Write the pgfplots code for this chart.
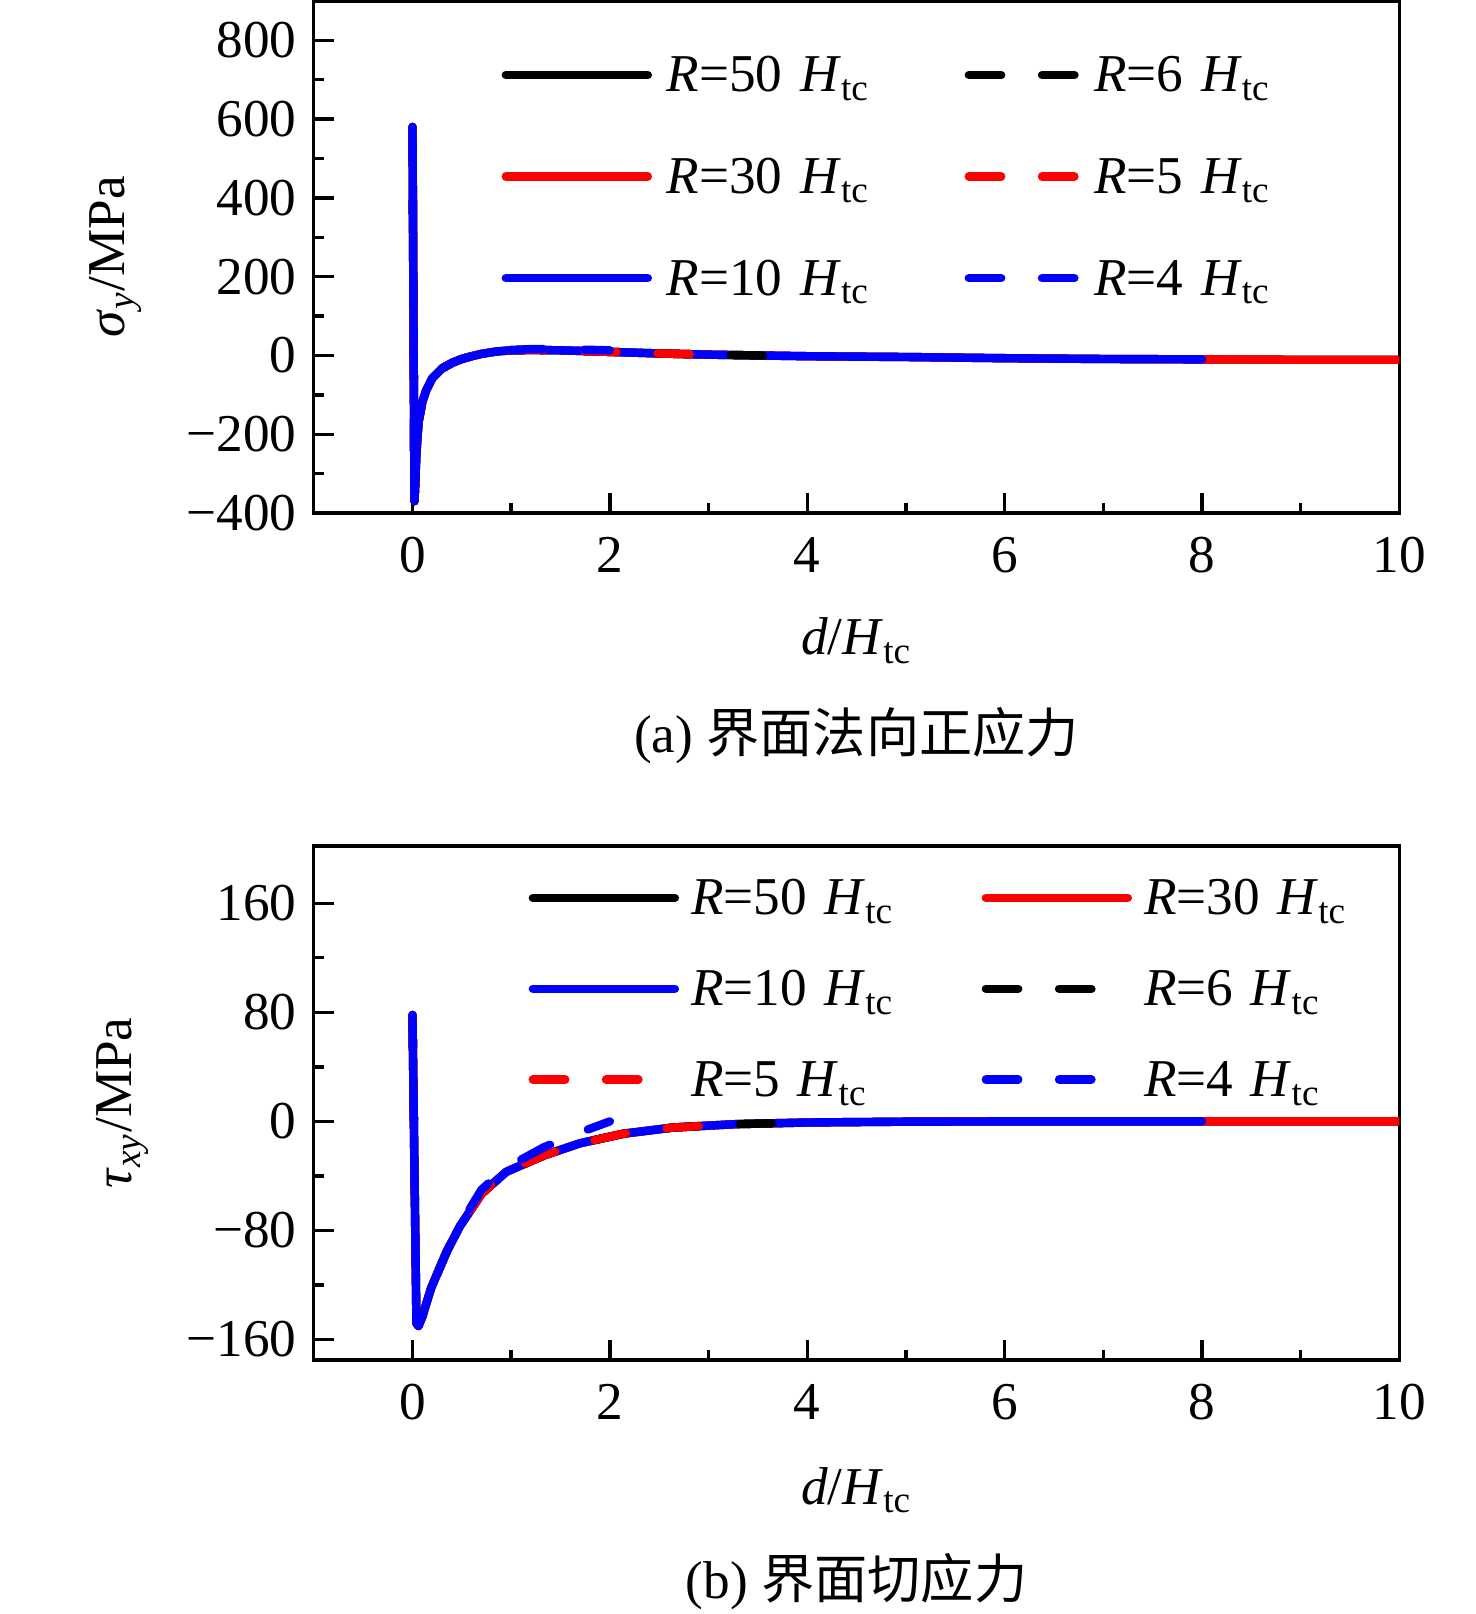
\documentclass[border=0pt]{standalone}
\usepackage{fontspec}
\setmainfont{Liberation Serif}
\newfontfamily\cjk{Noto Sans CJK SC}
\usepackage{pgfplots}
\pgfplotsset{compat=1.18}
\newcommand{\fs}{\fontsize{13.3}{16}\selectfont}
\newcommand{\Rl}[1]{\textit{R}=#1 \textit{H}\textsubscript{tc}}

\pgfplotsset{
  myaxis/.style={
    scale only axis, width=271.4pt,
    xmin=-1, xmax=10,
    axis line style={line width=0.85pt},
    tick style={line width=0.85pt, black},
    tick align=inside, xtick pos=bottom, ytick pos=left,
    major tick length=5pt, minor tick length=2.5pt,
    xtick={0,2,4,6,8,10},
    xticklabels={\textrm{0},\textrm{2},\textrm{4},\textrm{6},\textrm{8},\textrm{10}},
    minor x tick num=1, minor y tick num=1,
    ticklabel style={font=\fs},
    xticklabel style={anchor=base, yshift=-14.9pt},
    yticklabel style={xshift=-0.8pt},
    label style={font=\fs},
    legend cell align=left,
    legend style={draw=none, fill=none, inner sep=0pt, outer sep=0pt, font=\fs, anchor=north west,
       nodes={inner sep=0pt, text height=9.5pt, text depth=3.5pt, align=left}},
  },
  legsolid/.style={legend image code/.code={\draw[##1] (0pt,1.25pt) -- (35.5pt,1.25pt);}},
  legdash/.style={legend image code/.code={\draw[##1] (0pt,1.25pt) -- (26.6pt,1.25pt);}},
}
\tikzset{
  ln/.style={line width=2.1pt, line cap=round, line join=round},
  dsh/.style={dash pattern=on 8.1pt off 10.2pt},
}

\begin{document}
\begin{tikzpicture}
\path[use as bounding box] (-78.45pt,-63.5pt) rectangle (290.5pt,340pt);

% ---------------- (a) ----------------
\begin{axis}[myaxis, name=top, at={(0pt,211.75pt)}, anchor=south west,
  height=128pt, ymin=-400, ymax=900,
  ytick={-400,-200,0,200,400,600,800},
  yticklabels={\textrm{−400},\textrm{−200},\textrm{0},\textrm{200},\textrm{400},\textrm{600},\textrm{800}},
  xlabel={\textit{d}/\textit{H}\textsubscript{tc}},
  xlabel style={at={(axis description cs:0.5,-0.2773)}, anchor=base},
  ylabel={\textit{σ}\textsubscript{\textit{y}}/MPa},
  ylabel style={at={(axis description cs:-0.1741,0.5)}, anchor=base},
  legend columns=2,
  legend style={at={(axis description cs:0.1730,0.8965)}, row sep=12.4pt, column sep=3.7pt,
     /tikz/every even column/.append style={column sep=0pt},
     nodes={text width=74.45pt}},
]
% R=50 black solid
\addplot[forget plot, black, ln] coordinates {(0,580) (0.02,-370) (0.04,-250) (0.06,-170) (0.10,-118) (0.14,-88) (0.20,-58) (0.30,-33) (0.40,-19) (0.50,-9) (0.60,-2) (0.70,4) (0.85,10) (1.00,13) (1.20,14) (1.50,13) (2.00,9) (2.50,5) (3.00,2) (3.50,0) (4.00,-2) (5.00,-4) (6.00,-7) (7.00,-9) (8.00,-10) (9.00,-11) (10.00,-11)};
% R=30 red solid
\addplot[forget plot, red, ln] coordinates {(0,580) (0.02,-370) (0.04,-250) (0.06,-170) (0.10,-118) (0.14,-88) (0.20,-58) (0.30,-33) (0.40,-19) (0.50,-9) (0.60,-2) (0.70,4) (0.85,10) (1.00,13) (1.20,14) (1.50,13) (2.00,9) (2.50,5) (3.00,2) (3.50,0) (4.00,-2) (5.00,-4) (6.00,-7) (7.00,-9) (8.00,-10) (9.00,-11) (10.00,-11)};
% R=10 blue solid
\addplot[forget plot, blue, ln] coordinates {(0,580) (0.02,-370) (0.04,-250) (0.06,-170) (0.10,-118) (0.14,-88) (0.20,-58) (0.30,-33) (0.40,-19) (0.50,-9) (0.60,-2) (0.70,4) (0.85,10) (1.00,13) (1.20,14) (1.50,13) (2.00,9) (2.50,5) (3.00,2) (3.50,0) (4.00,-2) (5.00,-4) (6.00,-7) (7.00,-9) (8.00,-10)};
% R=6 black dashed
\addplot[forget plot, black, ln, dsh] coordinates {(0,580) (0.02,-370) (0.04,-250) (0.06,-170) (0.10,-118) (0.14,-88) (0.20,-58) (0.30,-33) (0.40,-19) (0.50,-9) (0.60,-2) (0.70,4) (0.85,10) (1.00,13) (1.20,14) (1.50,13) (2.00,9) (2.50,5) (3.00,2) (3.50,0) (3.70,-1)};
% R=5 red dashed
\addplot[forget plot, red, ln, dsh] coordinates {(0,580) (0.02,-370) (0.04,-250) (0.06,-170) (0.10,-118) (0.14,-88) (0.20,-58) (0.30,-33) (0.40,-19) (0.50,-9) (0.60,-2) (0.70,4) (0.85,10) (1.00,13) (1.20,14) (1.50,13) (2.00,9) (2.50,5) (3.00,2)};
% R=4 blue dashed
\addplot[forget plot, blue, ln, dsh] coordinates {(0,580) (0.02,-370) (0.04,-250) (0.06,-170) (0.10,-118) (0.14,-88) (0.20,-58) (0.30,-33) (0.40,-19) (0.50,-9) (0.60,-2) (0.70,4) (0.85,11) (1.00,14) (1.20,16) (1.50,16) (2.00,13)};

\addlegendimage{legsolid, black, ln}\addlegendentry{\Rl{50}}
\addlegendimage{legdash, black, ln, dsh}\addlegendentry{\Rl{6}}
\addlegendimage{legsolid, red, ln}\addlegendentry{\Rl{30}}
\addlegendimage{legdash, red, ln, dsh}\addlegendentry{\Rl{5}}
\addlegendimage{legsolid, blue, ln}\addlegendentry{\Rl{10}}
\addlegendimage{legdash, blue, ln, dsh}\addlegendentry{\Rl{4}}
\end{axis}

% ---------------- (b) ----------------
\begin{axis}[myaxis, name=bot, at={(0pt,0pt)}, anchor=south west,
  height=128.5pt, ymin=-175, ymax=202,
  ytick={-160,-80,0,80,160},
  yticklabels={\textrm{−160},\textrm{−80},\textrm{0},\textrm{80},\textrm{160}},
  xlabel={\textit{d}/\textit{H}\textsubscript{tc}},
  xlabel style={at={(axis description cs:0.5,-0.2802)}, anchor=base},
  ylabel={\textit{τ}\textsubscript{\textit{xy}}/MPa},
  ylabel style={at={(axis description cs:-0.168,0.5)}, anchor=base},
  legend columns=2,
  legend style={at={(axis description cs:0.1979,0.9397)}, row sep=9.7pt, column sep=3pt,
     /tikz/every even column/.append style={column sep=0pt},
     nodes={text width=72.65pt}},
]
% R=50 black solid
\addplot[forget plot, black, ln] coordinates {(0,78) (0.04,-148) (0.06,-150) (0.10,-143) (0.19,-122) (0.35,-95) (0.48,-77) (0.70,-53) (0.95,-37) (1.33,-25) (1.70,-16) (2.14,-9) (2.64,-4.5) (3.28,-2) (4.00,-0.8) (5.00,-0.2) (6.00,0) (8.00,0) (10.00,0)};
% R=30 red solid
\addplot[forget plot, red, ln] coordinates {(0,78) (0.04,-148) (0.06,-150) (0.10,-143) (0.19,-122) (0.35,-95) (0.48,-77) (0.70,-53) (0.95,-37) (1.33,-25) (1.70,-16) (2.14,-9) (2.64,-4.5) (3.28,-2) (4.00,-0.8) (5.00,-0.2) (6.00,0) (8.00,0) (10.00,0)};
% R=10 blue solid
\addplot[forget plot, blue, ln] coordinates {(0,78) (0.04,-148) (0.06,-150) (0.10,-143) (0.19,-122) (0.35,-95) (0.48,-77) (0.70,-53) (0.95,-37) (1.33,-25) (1.70,-16) (2.14,-9) (2.64,-4.5) (3.28,-2) (4.00,-0.8) (5.00,-0.2) (6.00,0) (8.00,0)};
% R=6 black dashed
\addplot[forget plot, black, ln, dsh] coordinates {(0,78) (0.04,-148) (0.06,-150) (0.10,-143) (0.19,-122) (0.35,-95) (0.48,-77) (0.70,-53) (0.95,-37) (1.33,-25) (1.70,-16) (2.14,-9) (2.64,-4.5) (3.28,-2) (4.00,-0.8)};
% R=5 red dashed
\addplot[forget plot, red, ln, dsh] coordinates {(0,78) (0.04,-148) (0.06,-150) (0.10,-143) (0.19,-122) (0.35,-95) (0.48,-77) (0.70,-53) (0.95,-37) (1.33,-25) (1.70,-16) (2.14,-9) (2.64,-4.5) (2.90,-3.5)};
% R=4 blue dashed
\addplot[forget plot, blue, ln, dsh] coordinates {(0,78) (0.04,-148) (0.06,-150) (0.10,-143) (0.19,-122) (0.35,-95) (0.48,-76) (0.70,-50) (0.95,-34) (1.33,-19) (1.70,-8) (2.00,0)};

\addlegendimage{legsolid, black, ln}\addlegendentry{\Rl{50}}
\addlegendimage{legsolid, red, ln}\addlegendentry{\Rl{30}}
\addlegendimage{legsolid, blue, ln}\addlegendentry{\Rl{10}}
\addlegendimage{legdash, black, ln, dsh}\addlegendentry{\Rl{6}}
\addlegendimage{legdash, red, ln, dsh}\addlegendentry{\Rl{5}}
\addlegendimage{legdash, blue, ln, dsh}\addlegendentry{\Rl{4}}
\end{axis}

\node[font=\fs, anchor=base] at ([yshift=-60pt]top.south) {(a) {\cjk 界面法向正应力}};
\node[font=\fs, anchor=base] at ([yshift=-59.5pt]bot.south) {(b) {\cjk 界面切应力}};
\end{tikzpicture}
\end{document}
